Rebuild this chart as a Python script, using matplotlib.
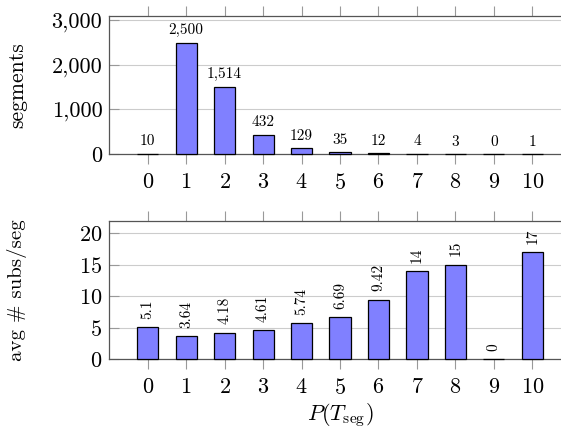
import matplotlib

matplotlib.use("Agg")
import matplotlib.pyplot as plt
from matplotlib.ticker import FuncFormatter

plt.rcParams["font.family"] = ["cmr10", "DejaVu Serif"]
plt.rcParams["mathtext.fontset"] = "cm"
plt.rcParams["axes.formatter.use_mathtext"] = True

# data
p_values = [0, 1, 2, 3, 4, 5, 6, 7, 8, 9, 10]
segments = [10, 2500, 1514, 432, 129, 35, 12, 4, 3, 0, 1]
avg_subs = [5.1, 3.64, 4.18, 4.61, 5.74, 6.69, 9.42, 14, 15, 0, 17]
avg_labels = ["5.1", "3.64", "4.18", "4.61", "5.74", "6.69", "9.42", "14", "15", "0", "17"]
seg_yticks = [0, 1000, 2000, 3000]
avg_yticks = [0, 5, 10, 15, 20]

BAR_COLOR = "#8080ff"
TICK_SIZE = 16
LABEL_SIZE = 15.5
NODE_SIZE = 11

fig = plt.figure(figsize=(5.61, 4.28), dpi=100)
ax_top = fig.add_axes([0.1947, 0.6402, 0.8228, 0.3224])
ax_bot = fig.add_axes([0.1947, 0.1612, 0.8228, 0.3231])


def style_axis(ax, yticks, ymax):
    ax.set_xlim(-1, 11)
    ax.set_ylim(0, ymax)
    ax.set_xticks(p_values)
    ax.set_yticks(yticks)
    ax.set_axisbelow(True)
    ax.grid(axis="y", color="#cccccc", linewidth=0.8)
    ax.tick_params(axis="x", direction="out", length=7.5, width=0.8,
                   color="#999999", top=True, labeltop=False,
                   labelsize=TICK_SIZE, pad=6)
    ax.tick_params(axis="y", direction="in", length=7, width=0.8,
                   color="#999999", labelsize=TICK_SIZE, pad=5)
    for side in ("left", "top", "bottom"):
        ax.spines[side].set_color("#555555")
        ax.spines[side].set_linewidth(0.9)
    ax.spines["right"].set_visible(False)


def draw_bars(ax, values):
    bars = ax.bar(p_values, values, width=0.55, color=BAR_COLOR,
                  edgecolor="black", linewidth=0.9, zorder=3)
    for bar in bars:
        bar.set_clip_on(False)


# top panel: number of segments
draw_bars(ax_top, segments)
style_axis(ax_top, seg_yticks, 3100)
ax_top.yaxis.set_major_formatter(FuncFormatter(lambda v, _: f"{int(v):,}"))
for x, v in zip(p_values, segments):
    ax_top.annotate(f"{v:,}", (x, v), xytext=(0, 6), textcoords="offset points",
                    ha="center", va="baseline", fontsize=NODE_SIZE)
ax_top.set_ylabel("segments", fontsize=LABEL_SIZE)
ax_top.yaxis.set_label_coords(-0.178, 0.5)

# bottom panel: average subs per segment
draw_bars(ax_bot, avg_subs)
style_axis(ax_bot, avg_yticks, 22)
for x, v, lab in zip(p_values, avg_subs, avg_labels):
    ax_bot.annotate(lab, (x, v), xytext=(0, 6), textcoords="offset points",
                    ha="center", va="bottom", rotation=90, fontsize=NODE_SIZE)
ax_bot.set_ylabel("avg # subs/seg", fontsize=15)
ax_bot.yaxis.set_label_coords(-0.178, 0.5)
ax_bot.set_xlabel(r"$P(T_{\mathrm{seg}})$", fontsize=TICK_SIZE, labelpad=2)

fig.savefig("out.png", dpi=100)
